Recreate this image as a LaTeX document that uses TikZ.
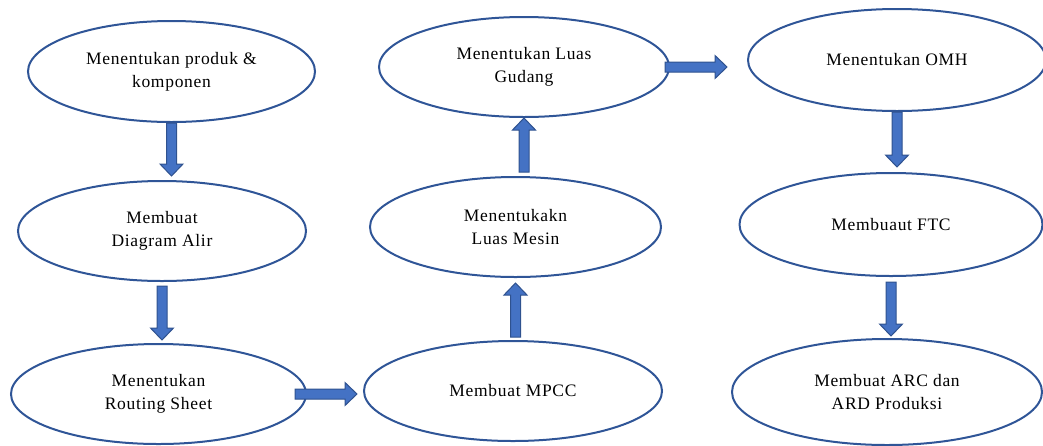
\documentclass[tikz,border=0pt]{standalone}
\usepackage{fontspec}
\setmainfont{Liberation Serif}[LetterSpace=4]
\usetikzlibrary{shapes.geometric,calc}
\definecolor{ovalblue}{HTML}{2F5597}
\definecolor{arrowfill}{HTML}{4472C4}
\definecolor{arrowline}{HTML}{2F528F}
\newcommand{\blockarr}[4]{%
\path ($(#1)!#3!(#2)$) coordinate (s) ($(#2)!#4!(#1)$) coordinate (t) ($(t)!12pt!(s)$) coordinate (hb);
\draw[blockarrow] ($(s)!5pt!90:(t)$) -- ($(hb)!5pt!90:(t)$) -- ($(hb)!11.5pt!90:(t)$) -- (t)
-- ($(hb)!11.5pt!-90:(t)$) -- ($(hb)!5pt!-90:(t)$) -- ($(s)!5pt!-90:(t)$) -- cycle;}

\begin{document}
\begin{tikzpicture}[x=1pt, y=-1pt,
oval/.style={ellipse, draw=ovalblue, line width=2pt, inner sep=0pt, align=center, font=\fontsize{17.5}{23.3}\selectfont},
blockarrow/.style={fill=arrowfill, draw=arrowline, line width=1pt, line join=miter}]
\clip (0,0) rectangle (1043,445);

\node[oval, minimum width=287pt, minimum height=101pt] (produk) at (171.5,71.5) {Menentukan produk \&\\komponen};
\node[oval, minimum width=288pt, minimum height=100pt] (diagram) at (162,231) {Membuat\\Diagram Alir};
\node[oval, minimum width=295pt, minimum height=100pt] (routing) at (158.5,394) {Menentukan\\Routing Sheet};

\node[oval, minimum width=298pt, minimum height=100pt] (mpcc) at (513,391) {Membuat MPCC};
\node[oval, minimum width=291pt, minimum height=100pt] (mesin) at (515.5,227) {Menentukakn\\Luas Mesin};
\node[oval, minimum width=290pt, minimum height=100pt] (gudang) at (524,67) {Menentukan Luas\\Gudang};

\node[oval, minimum width=298pt, minimum height=102pt] (omh) at (897,60) {Menentukan OMH};
\node[oval, minimum width=303pt, minimum height=103pt] (ftc) at (891,224.5) {Membuaut FTC};
\node[oval, minimum width=310pt, minimum height=106pt] (arc) at (887,392) {Membuat ARC dan\\ARD Produksi};

\blockarr{produk.south}{produk.south |- diagram.north}{0pt}{4pt}
\blockarr{diagram.south}{diagram.south |- routing.north}{4pt}{3pt}
\blockarr{routing.east}{routing.east -| mpcc.west}{-12pt}{6pt}
\blockarr{mesin.south |- mpcc.north}{mesin.south}{3pt}{5pt}
\blockarr{gudang.south |- mesin.north}{gudang.south}{4pt}{0pt}
\blockarr{gudang.east}{gudang.east -| omh.west}{-5pt}{20pt}
\blockarr{omh.south}{omh.south |- ftc.north}{0pt}{5pt}
\blockarr{ftc.south}{ftc.south |- arc.north}{5pt}{2pt}
\end{tikzpicture}
\end{document}
